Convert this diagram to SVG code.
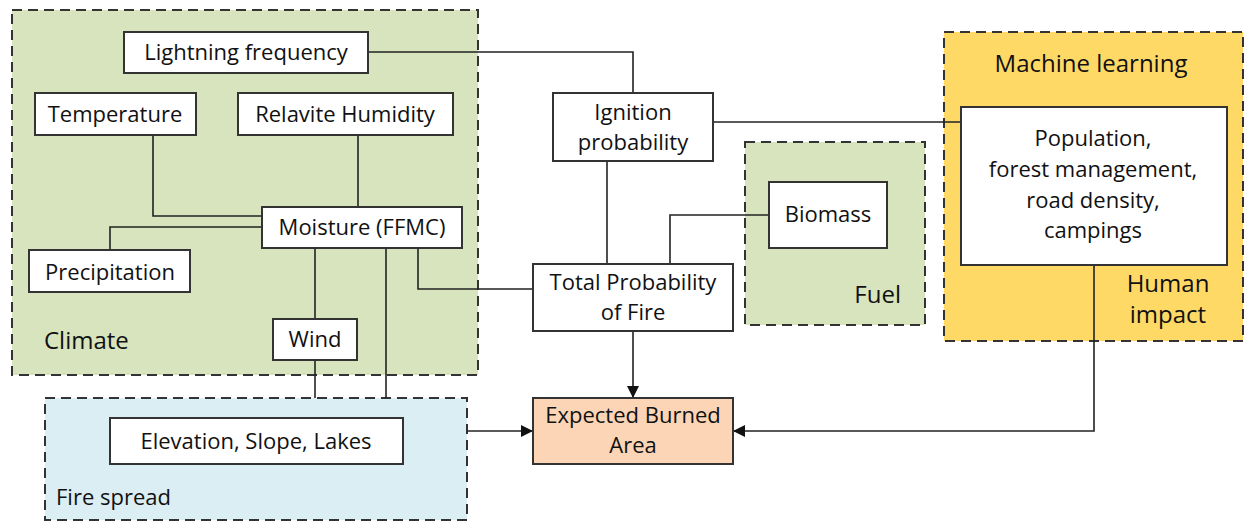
<svg xmlns="http://www.w3.org/2000/svg" width="1244" height="521" viewBox="0 0 1244 521">
<defs>
<style>
.grp{stroke:#333;stroke-width:2;stroke-dasharray:10 6}
.box{fill:#fff;stroke:#333;stroke-width:2}
.t{font-family:"Open Sans","Noto Sans","Liberation Sans",sans-serif;font-size:22px;fill:#111;text-anchor:middle}
.big{font-size:24px}
.l{text-anchor:start}
.e{text-anchor:end}
.c{fill:none;stroke:#222;stroke-width:1.6}
</style>
<marker id="ah" markerWidth="12" markerHeight="12" refX="11" refY="6" orient="auto" markerUnits="userSpaceOnUse">
<path d="M0,0 L12,6 L0,12 Z" fill="#111"/>
</marker>
</defs>
<rect width="1244" height="521" fill="#fff"/>
<g id="climate">
<rect class="grp" x="12" y="10" width="466" height="365" fill="#d7e4bd"/>
<text class="t big l" x="44" y="349">Climate</text>
</g>
<g id="fire-spread">
<rect class="grp" x="45" y="398" width="422" height="122" fill="#dbeef3"/>
<text class="t l" x="56" y="505">Fire spread</text>
</g>
<g id="fuel">
<rect class="grp" x="745" y="142" width="180" height="183" fill="#d7e4bd"/>
<text class="t big e" x="901" y="303">Fuel</text>
</g>
<g id="human-impact">
<rect class="grp" x="944" y="32" width="299" height="309" fill="#ffd966"/>
<text class="t big" x="1091" y="72">Machine learning</text>
<text class="t big" x="1168" y="292">Human</text>
<text class="t big" x="1168" y="323">impact</text>
</g>
<g id="connectors">
<path class="c" d="M368,52 H633 V93"/>
<path class="c" d="M153,135 V216 H262"/>
<path class="c" d="M358,135 V207"/>
<path class="c" d="M262,227 H110 V250"/>
<path class="c" d="M315,248 V319"/>
<path class="c" d="M315,360 V398"/>
<path class="c" d="M386,248 V398"/>
<path class="c" d="M418,248 V289 H533"/>
<path class="c" d="M713,122 H961"/>
<path class="c" d="M607,161 V264"/>
<path class="c" d="M769,215 H670 V264"/>
<path class="c" d="M633,331 V397" marker-end="url(#ah)"/>
<path class="c" d="M467,431 H532" marker-end="url(#ah)"/>
<path class="c" d="M1094,265 V431 H734" marker-end="url(#ah)"/>
</g>
<g id="lightning">
<rect class="box" x="124" y="32" width="244" height="41"/>
<text class="t" x="246" y="60">Lightning frequency</text>
</g>
<g id="temperature">
<rect class="box" x="35" y="93" width="161" height="42"/>
<text class="t" x="115" y="122">Temperature</text>
</g>
<g id="humidity">
<rect class="box" x="238" y="93" width="215" height="42"/>
<text class="t" x="345" y="122">Relavite Humidity</text>
</g>
<g id="moisture">
<rect class="box" x="262" y="207" width="200" height="41"/>
<text class="t" x="362" y="235">Moisture (FFMC)</text>
</g>
<g id="precipitation">
<rect class="box" x="29" y="250" width="161" height="42"/>
<text class="t" x="110" y="280">Precipitation</text>
</g>
<g id="wind">
<rect class="box" x="273" y="319" width="84" height="41"/>
<text class="t" x="315" y="347">Wind</text>
</g>
<g id="elevation">
<rect class="box" x="110" y="418" width="293" height="46"/>
<text class="t" x="256" y="449">Elevation, Slope, Lakes</text>
</g>
<g id="ignition">
<rect class="box" x="553" y="93" width="160" height="68"/>
<text class="t" x="633" y="120">Ignition</text>
<text class="t" x="633" y="150">probability</text>
</g>
<g id="biomass">
<rect class="box" x="769" y="182" width="118" height="66"/>
<text class="t" x="828" y="222">Biomass</text>
</g>
<g id="total-probability">
<rect class="box" x="533" y="264" width="200" height="67"/>
<text class="t" x="633" y="290">Total Probability</text>
<text class="t" x="633" y="320">of Fire</text>
</g>
<g id="expected-burned-area">
<rect class="box" x="533" y="398" width="200" height="66" style="fill:#fbd5b5"/>
<text class="t" x="633" y="423">Expected Burned</text>
<text class="t" x="633" y="453">Area</text>
</g>
<g id="population">
<rect class="box" x="961" y="107" width="266" height="158"/>
<text class="t" x="1093" y="146">Population,</text>
<text class="t" x="1093" y="177">forest management,</text>
<text class="t" x="1093" y="208">road density,</text>
<text class="t" x="1093" y="238">campings</text>
</g>
</svg>
